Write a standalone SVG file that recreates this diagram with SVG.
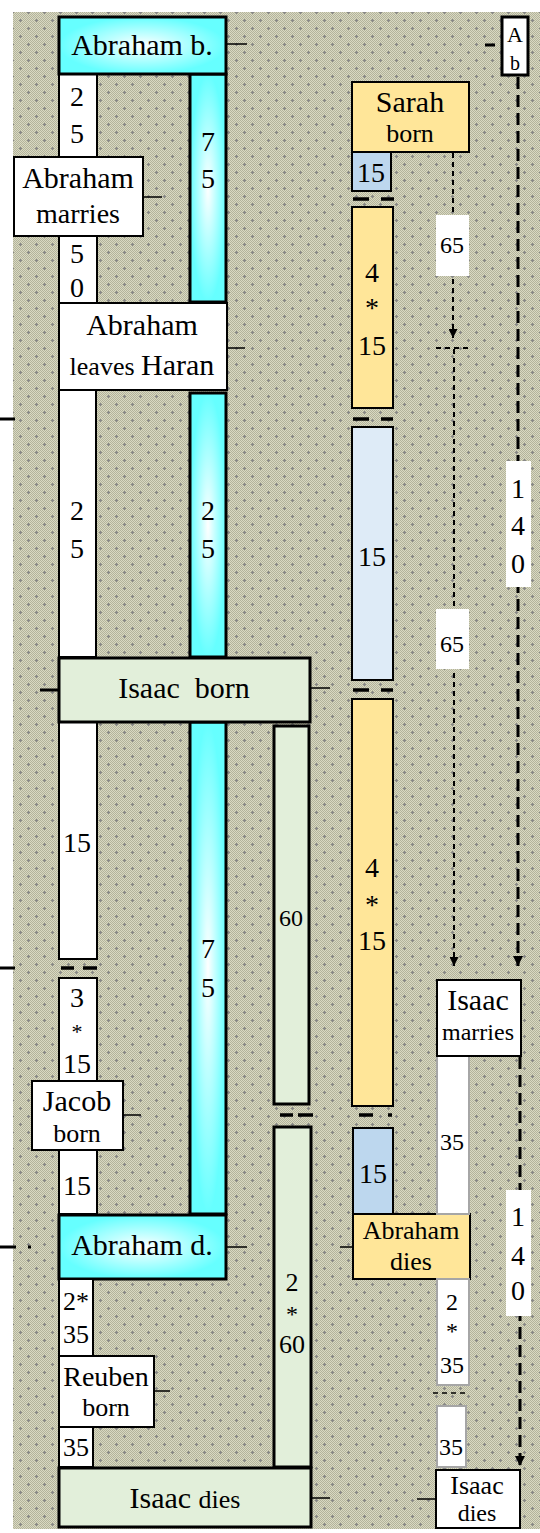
<svg xmlns="http://www.w3.org/2000/svg" width="540" height="1533" viewBox="0 0 540 1533">
<defs>
<pattern id="chk" width="2" height="2" patternUnits="userSpaceOnUse">
<rect width="2" height="2" fill="#d9d9c2"/>
<rect width="1" height="1" fill="#b3b39b"/>
<rect x="1" y="1" width="1" height="1" fill="#b3b39b"/>
</pattern>
<pattern id="bgp" width="16" height="16" patternUnits="userSpaceOnUse">
<rect width="16" height="16" fill="url(#chk)"/>
<path d="M3 4h3v1H3zM4 3h1v3H4zM11 12h3v1h-3zM12 11h1v3h-1z" fill="#888"/>
</pattern>
<radialGradient id="cy" cx="0.5" cy="0.5" r="0.5">
<stop offset="0" stop-color="#ffffff"/>
<stop offset="1" stop-color="#66ffff"/>
</radialGradient>
<marker id="ah" viewBox="0 0 10 10" refX="10" refY="5" markerWidth="9" markerHeight="9" markerUnits="userSpaceOnUse" orient="auto">
<path d="M0 0L10 5L0 10z" fill="#000"/>
</marker>
<marker id="ahb" viewBox="0 0 10 10" refX="10" refY="5" markerWidth="10" markerHeight="10" markerUnits="userSpaceOnUse" orient="auto">
<path d="M0 0L10 5L0 10z" fill="#000"/>
</marker>
</defs>
<style>
text{font-family:"Liberation Serif","Times New Roman",serif;fill:#000;text-anchor:middle}
.f30{font-size:30px}.f28{font-size:28px}.f26{font-size:26px}.f24{font-size:24px}.f22{font-size:22px}.f20{font-size:20px}
.cy{fill:url(#cy);stroke:#000;stroke-width:3}
.gr{fill:#e2efda;stroke:#000;stroke-width:3}
.wb{fill:#fff;stroke:#000;stroke-width:2}
.wg{fill:#fff;stroke:#a6a6a6;stroke-width:2}
.ye{fill:#ffe699;stroke:#000;stroke-width:2}
.bl{fill:#bdd7ee;stroke:#000;stroke-width:2}
.lb{fill:#deebf7;stroke:#000;stroke-width:2}
.lab{fill:#fff}
.tk{stroke:#000;stroke-width:1.5;fill:none}
.tkb{stroke:#000;stroke-width:3;fill:none}
.brk{stroke:#000;stroke-width:3.5;fill:none}
.dl{stroke:#000;stroke-width:3;stroke-dasharray:12 6;fill:none}
.ds{stroke:#000;stroke-width:2;stroke-dasharray:5 4;fill:none}
</style>
<rect x="13" y="12" width="527" height="1517" fill="url(#bgp)"/>

<g id="connectors">
<path class="dl" d="M518 77V966" marker-end="url(#ahb)"/>
<path class="dl" d="M520 1057V1466" marker-end="url(#ahb)"/>
<path class="ds" d="M453 153V338" marker-end="url(#ah)"/>
<path class="ds" d="M436 348H470"/>
<path class="ds" d="M454 349V966" marker-end="url(#ah)"/>
<path class="ds" style="stroke-width:1.5" d="M433 1393H468"/>
<path class="tk" d="M227 44H247M143 197H162M227 348H245M310 688H330M123 1115H141M227 1247H247M340 1247H353M154 1391H170M312 1498H330M417 1499H435"/>
<path class="tkb" d="M485 45H495M0 419H15M40 690H58M0 968H15M0 1247H16M28 1247H31"/>
<path class="brk" d="M353 199H369M381 199H394M353 419H369M381 419H393M353 690H369M381 690H393M61 968H74M83 968H97M280 1115H293M298 1115H313M359 1115H373M388 1115H392"/>
</g>

<g id="bar-a1"><rect class="wb" x="59" y="74" width="38" height="229"/><text class="f28" x="77" y="106">2</text><text class="f28" x="77" y="143">5</text><text class="f28" x="77" y="263">5</text><text class="f28" x="77" y="297">0</text></g>
<g id="bar-c1"><rect class="cy" x="190" y="74" width="36" height="228"/><text class="f28" x="208" y="151">7</text><text class="f28" x="208" y="188">5</text></g>
<g id="abraham-born"><rect class="cy" x="59" y="17" width="167" height="57"/><text class="f30" x="142" y="55">Abraham b.</text></g>
<g id="abraham-marries"><rect class="wb" x="14" y="157" width="129" height="79"/><text class="f30" x="78" y="188">Abraham</text><text class="f28" x="78" y="223">marries</text></g>
<g id="abraham-leaves"><rect class="wb" x="59" y="303" width="168" height="87"/><text class="f30" x="142" y="335">Abraham</text><text x="142" y="375"><tspan class="f26">leaves </tspan><tspan class="f30">Haran</tspan></text></g>
<g id="bar-a2"><rect class="wb" x="59" y="390" width="37" height="267"/><text class="f28" x="77" y="520">2</text><text class="f28" x="77" y="558">5</text></g>
<g id="bar-c2"><rect class="cy" x="190" y="393" width="36" height="264"/><text class="f28" x="208" y="520">2</text><text class="f28" x="208" y="558">5</text></g>
<g id="bar-a3"><rect class="wb" x="59" y="722" width="38" height="237"/><text class="f28" x="77" y="852">15</text></g>
<g id="bar-c3"><rect class="cy" x="190" y="722" width="36" height="492"/><text class="f28" x="208" y="958">7</text><text class="f28" x="208" y="997">5</text></g>
<g id="isaac-born"><rect class="gr" x="59" y="658" width="251" height="64"/><text class="f30" x="184" y="698">Isaac&#160; born</text></g>
<g id="bar-g1"><rect class="gr" x="274" y="726" width="35" height="378"/><text class="f24" x="291" y="926">60</text></g>
<g id="bar-a4"><rect class="wb" x="59" y="978" width="38" height="103"/><text class="f28" x="77" y="1007">3</text><text class="f22" x="77" y="1039">*</text><text class="f28" x="77" y="1073">15</text></g>
<g id="jacob-born"><rect class="wb" x="32" y="1081" width="91" height="69"/><text class="f30" x="77" y="1111">Jacob</text><text class="f26" x="77" y="1142">born</text></g>
<g id="bar-a5"><rect class="wb" x="59" y="1150" width="38" height="64"/><text class="f28" x="77" y="1195">15</text></g>
<g id="bar-g2"><rect class="gr" x="274" y="1127" width="37" height="340"/><text class="f26" x="292" y="1291">2</text><text class="f24" x="292" y="1322">*</text><text class="f26" x="292" y="1353">60</text></g>
<g id="abraham-died"><rect class="cy" x="59" y="1215" width="167" height="64"/><text class="f30" x="142" y="1255">Abraham d.</text></g>
<g id="bar-a6"><rect class="wb" x="59" y="1279" width="34" height="77"/><text class="f26" x="76" y="1310">2*</text><text class="f26" x="76" y="1343">35</text></g>
<g id="reuben-born"><rect class="wb" x="59" y="1356" width="95" height="71"/><text class="f28" x="106" y="1386">Reuben</text><text class="f26" x="106" y="1416">born</text></g>
<g id="bar-a7"><rect class="wb" x="59" y="1427" width="34" height="40"/><text class="f26" x="76" y="1456">35</text></g>
<g id="isaac-dies"><rect class="gr" x="59" y="1468" width="252" height="59"/><text x="185" y="1508"><tspan class="f30">Isaac </tspan><tspan class="f26">dies</tspan></text></g>

<g id="sarah-born"><rect class="ye" x="352" y="82" width="117" height="70"/><text class="f30" x="410" y="112">Sarah</text><text class="f26" x="410" y="142">born</text></g>
<g id="bar-s1"><rect class="bl" x="352" y="152" width="39" height="39"/><text class="f28" x="371" y="182">15</text></g>
<g id="bar-s2"><rect class="ye" x="352" y="207" width="41" height="201"/><text class="f28" x="372" y="282">4</text><text class="f28" x="372" y="317">*</text><text class="f28" x="372" y="355">15</text></g>
<g id="bar-s3"><rect class="lb" x="352" y="427" width="41" height="253"/><text class="f28" x="372" y="566">15</text></g>
<g id="bar-s4"><rect class="ye" x="352" y="699" width="41" height="407"/><text class="f28" x="372" y="877">4</text><text class="f28" x="372" y="914">*</text><text class="f28" x="372" y="950">15</text></g>
<g id="bar-s5"><rect class="bl" x="353" y="1128" width="40" height="86"/><text class="f28" x="373" y="1183">15</text></g>
<g id="abraham-dies"><rect class="ye" x="353" y="1214" width="117" height="65"/><text class="f26" x="411" y="1239">Abraham</text><text class="f26" x="411" y="1270">dies</text></g>

<g id="ab-box"><rect x="502" y="17" width="26" height="58" fill="#fff" stroke="#000" stroke-width="3"/><text class="f22" x="515" y="42">A</text><text class="f20" x="515" y="70">b</text></g>
<g id="label-65a"><rect class="lab" x="436" y="215" width="33" height="61"/><text class="f24" x="452" y="253">65</text></g>
<g id="label-65b"><rect class="lab" x="436" y="609" width="33" height="60"/><text class="f24" x="452" y="652">65</text></g>
<g id="label-140a"><rect class="lab" x="506" y="461" width="25" height="126"/><text class="f28" x="518" y="498">1</text><text class="f28" x="518" y="535">4</text><text class="f28" x="518" y="573">0</text></g>
<g id="bar-w1"><rect class="wg" x="437" y="1056" width="32" height="158"/><text class="f24" x="452" y="1150">35</text></g>
<g id="isaac-marries"><rect class="wb" x="437" y="980" width="84" height="76"/><text class="f30" x="478" y="1010">Isaac</text><text class="f24" x="478" y="1040">marries</text></g>
<g id="bar-w2"><rect class="wg" x="437" y="1279" width="32" height="106"/><text class="f24" x="452" y="1310">2</text><text class="f24" x="452" y="1339">*</text><text class="f24" x="452" y="1373">35</text></g>
<g id="bar-w3"><rect class="wg" x="437" y="1406" width="29" height="61"/><text class="f24" x="451" y="1455">35</text></g>
<g id="label-140b"><rect class="lab" x="506" y="1190" width="25" height="126"/><text class="f28" x="518" y="1226">1</text><text class="f28" x="518" y="1265">4</text><text class="f28" x="518" y="1300">0</text></g>
<g id="isaac-dies-small"><rect class="wb" x="436" y="1470" width="84" height="58"/><text class="f26" x="477" y="1494">Isaac</text><text class="f24" x="477" y="1521">dies</text></g>
</svg>
